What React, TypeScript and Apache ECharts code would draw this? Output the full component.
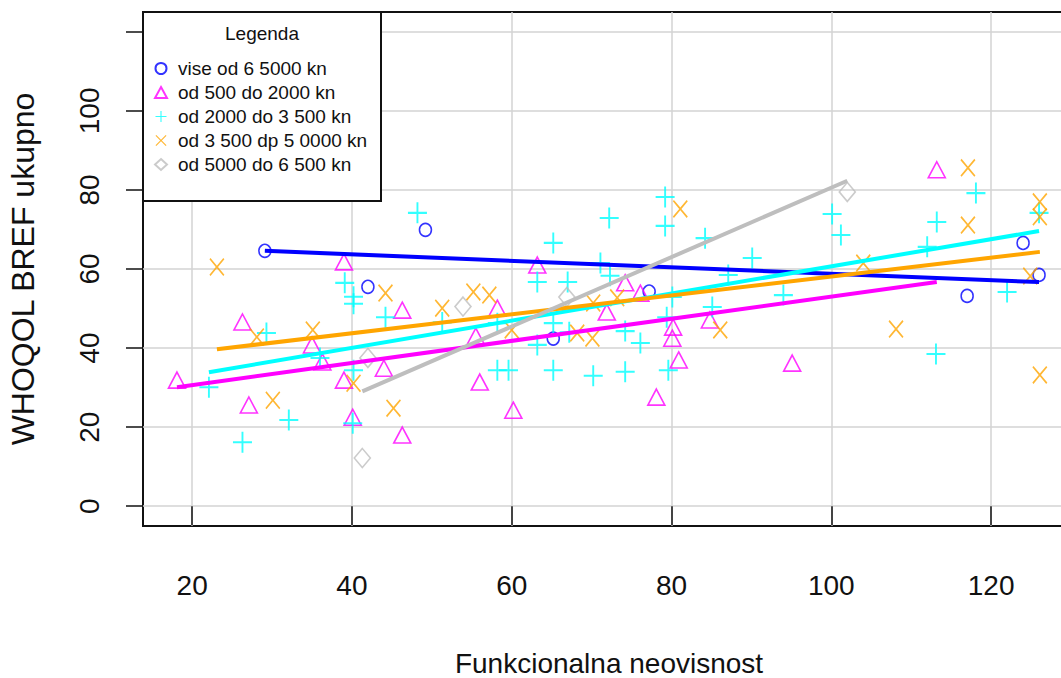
import React, { useEffect, useRef } from "react";
import * as echarts from "echarts";

// ---- data ----
const groupNames = [
  "vise od 6 5000 kn",
  "od 500 do 2000 kn",
  "od 2000 do 3 500 kn",
  "od 3 500 dp 5 0000 kn",
  "od 5000 do 6 500 kn",
];

const viseOd6500: [number, number][] = [
  [29.1, 64.6], [42, 55.5], [49.2, 69.9], [65.2, 42.4], [77.2, 54.3], [117, 53.2], [124, 66.6], [126, 58.5],
];

const od500do2000: [number, number][] = [
  [18.1, 31.9], [26.3, 46.6], [27.1, 25.6], [35, 40.8], [36.3, 36.5], [39, 61.8], [39, 31.9], [40.1, 22.5],
  [44, 34.9], [46.3, 49.6], [46.3, 18], [55.5, 43], [56, 31.4], [58.2, 50.1], [60.2, 24.3], [63.2, 61],
  [71.9, 49.1], [74.2, 56.5], [76.1, 53.9], [78.1, 27.6], [80.1, 42.5], [80.2, 45.3], [80.9, 37],
  [84.8, 47.1], [95.1, 36.2], [113.2, 85.1],
];

const od2000do3500: [number, number][] = [
  [22.1, 30.1], [26.3, 16.2], [29.3, 43.8], [32.1, 21.8], [36, 37.5], [39.1, 56.5], [40.2, 53], [40.2, 51.2],
  [40.2, 34.4], [40.1, 21], [44.2, 47.8], [48.2, 74.2], [51.3, 46.5], [58.2, 46.3], [58.2, 34.4], [59.6, 34.4],
  [63.2, 56.7], [63.2, 40.8], [65.2, 66.6], [65.2, 46.3], [65.2, 34.4], [67, 56.7], [67.2, 44], [70.2, 33],
  [71.1, 61.5], [72.2, 72.9], [72.3, 58.3], [74.2, 44.3], [74.2, 34], [76.1, 41.3], [79.2, 78.2], [79.2, 70.9],
  [79.4, 47.8], [79.6, 34.4], [80.1, 52.9], [84.2, 67.8], [85.1, 50.4], [87.1, 58.5], [90.1, 62.8], [94, 53.4],
  [100.1, 73.9], [101.2, 68.6], [112, 65.6], [113.2, 71.9], [113.1, 38.5], [118.1, 79.2], [122, 54.2], [126, 74.2],
];

const od3500do5000: [number, number][] = [
  [23.1, 60.5], [28.1, 42.8], [30.1, 26.8], [35.1, 44.6], [40.2, 31.1], [44.2, 53.9], [45.2, 24.8], [51.3, 50.1],
  [55.2, 54.2], [57.2, 53.4], [60, 44.6], [68.2, 43.8], [70.1, 42.5], [70.2, 51.4], [73.2, 52.7], [81.1, 75.2],
  [86.1, 44.6], [104, 61.5], [108.1, 44.8], [117.1, 85.6], [117.1, 71.1], [124.9, 58.2], [126.1, 77], [126.1, 73.2],
  [126.1, 33.2],
];

const od5000do6500: [number, number][] = [
  [41.3, 12.2], [42, 37.5], [53.9, 50.5], [66.9, 52.9], [102, 79.5],
];

// fitted trend lines (intercept, slope)
const trendIntercepts = [66.97, 25.04, 26.31, 34.18, -7.23];
const trendSlopes = [-0.0816, 0.2797, 0.3436, 0.2391, 0.878];

const xTicks = [20, 40, 60, 80, 100, 120];
const yTicks = [0, 20, 40, 60, 80, 100, 120];
const yTickLabels = [0, 20, 40, 60, 80, 100];

// ---- styling ----
const groups = [viseOd6500, od500do2000, od2000do3500, od3500do5000, od5000do6500];
const colors = ["#0000FF", "#FF00FF", "#00FFFF", "#FFA500", "#BEBEBE"];
const PLUS = "path://M9,0h2v9h9v2h-9v9h-2v-9h-9v-2h9z";
const CROSS = "path://M0,1.5L1.5,0L10,8.5L18.5,0L20,1.5L11.5,10L20,18.5L18.5,20L10,11.5L1.5,20L0,18.5L8.5,10Z";
const symbols = ["circle", "triangle", PLUS, CROSS, "diamond"];
const symbolSizes: [number, number][] = [[12, 13], [17, 16], [19, 21], [15, 18], [16, 19]];
const hollow = [true, true, false, false, true];

const REG = '"Liberation Sans", Arial, sans-serif';
const INK = "#111";

export default function App() {
  const ref = useRef<HTMLDivElement>(null);
  useEffect(() => {
    if (!ref.current) return;
    const chart = echarts.init(ref.current, undefined, { renderer: "svg" });

    const scatterSeries = groups.map((pts, i) => ({
      type: "scatter",
      name: groupNames[i],
      data: pts,
      symbol: symbols[i],
      symbolSize: symbolSizes[i],
      itemStyle: hollow[i]
        ? { color: "rgba(0,0,0,0)", borderColor: colors[i], borderWidth: 1.6 }
        : { color: colors[i] },
      emphasis: { disabled: true },
      z: 2,
    }));

    const lineSeries = groups.map((pts, i) => {
      const xs = pts.map((p) => p[0]);
      const x0 = Math.min(...xs);
      const x1 = Math.max(...xs);
      return {
        type: "line",
        name: "trend " + (i + 1),
        data: [
          [x0, trendIntercepts[i] + trendSlopes[i] * x0],
          [x1, trendIntercepts[i] + trendSlopes[i] * x1],
        ],
        showSymbol: false,
        symbol: "none",
        lineStyle: { color: colors[i], width: 4 },
        emphasis: { disabled: true },
        silent: true,
        z: 3,
      };
    });

    chart.setOption({
      animation: false,
      backgroundColor: "#ffffff",
      grid: {
        left: 143,
        right: -14,
        top: 12,
        bottom: 152,
        show: true,
        borderColor: INK,
        borderWidth: 2,
        backgroundColor: "transparent",
        outerBoundsMode: "none",
        containLabel: false,
      },
      xAxis: {
        type: "value",
        min: 13.85,
        max: 130.5,
        axisLine: { show: false },
        axisTick: { show: true, customValues: xTicks, length: 19, lineStyle: { color: INK, width: 1.5 } },
        axisLabel: { customValues: xTicks, margin: 45, fontSize: 28, fontFamily: REG, color: INK },
        splitLine: { show: true, lineStyle: { color: "#d3d3d3", width: 1.5 } },
        name: "Funkcionalna neovisnost",
        nameLocation: "middle",
        nameGap: 123,
        nameTextStyle: { fontSize: 28, fontFamily: REG, color: INK },
      },
      yAxis: {
        type: "value",
        min: -5,
        max: 125,
        axisLine: { show: false },
        axisTick: { show: true, customValues: yTicks, length: 17, lineStyle: { color: INK, width: 1.5 } },
        axisLabel: { customValues: yTickLabels, rotate: 90, margin: 40, fontSize: 28, fontFamily: REG, color: INK },
        splitLine: { show: true, lineStyle: { color: "#d3d3d3", width: 1.5 } },
        name: "WHOQOL BREF ukupno",
        nameLocation: "middle",
        nameRotate: 90,
        nameGap: 104,
        nameTextStyle: { fontSize: 32, fontFamily: REG, color: INK },
      },
      legend: {
        data: groupNames,
        orient: "vertical",
        left: 154,
        top: 59,
        itemWidth: 12,
        itemHeight: 11,
        itemGap: 5,
        padding: 0,
        selectedMode: false,
        z: 10,
        textStyle: { fontSize: 19, fontFamily: REG, color: INK, padding: [0, 0, 0, 6] },
      },
      graphic: [
        {
          type: "rect",
          z: 8,
          shape: { x: 143, y: 12, width: 238, height: 189 },
          style: { fill: "#ffffff", stroke: INK, lineWidth: 2 },
        },
        {
          type: "text",
          z: 9,
          x: 262,
          y: 33,
          style: {
            text: "Legenda",
            fontSize: 19,
            fontFamily: REG,
            fill: INK,
            textAlign: "center",
            textVerticalAlign: "middle",
          },
        },
      ],
      series: [...scatterSeries, ...lineSeries],
    });

    return () => chart.dispose();
  }, []);

  return (
    <div
      ref={ref}
      style={{ position: "absolute", left: 0, top: 0, width: 1061, height: 678 }}
    />
  );
}
